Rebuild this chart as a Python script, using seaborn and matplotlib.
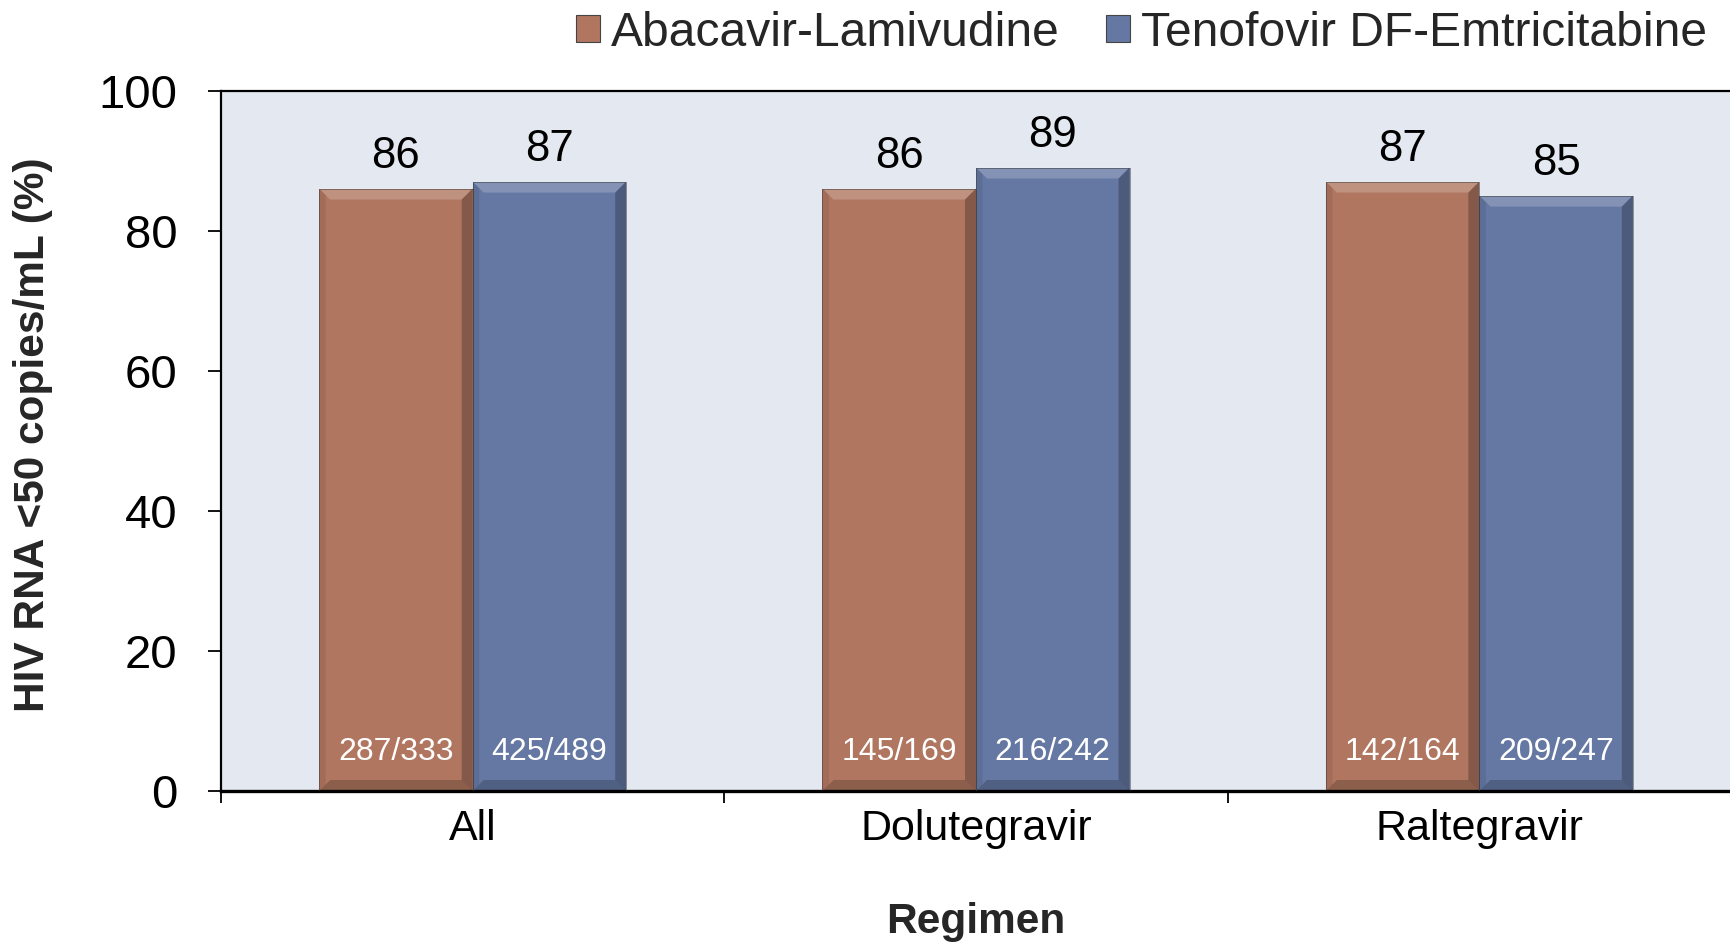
import numpy as np
import pandas as pd
import matplotlib
matplotlib.use("Agg")
import matplotlib.pyplot as plt
from matplotlib.patches import Polygon, Patch
import seaborn as sns

# data
regimens = ["All", "Dolutegravir", "Raltegravir"]
arms = ["Abacavir-Lamivudine", "Tenofovir DF-Emtricitabine"]
abc_pct = [86, 86, 87]
tdf_pct = [87, 89, 85]
abc_n = ["287/333", "145/169", "142/164"]
tdf_n = ["425/489", "216/242", "209/247"]

colors = {"Abacavir-Lamivudine": "#B07660", "Tenofovir DF-Emtricitabine": "#6578A3"}
bg = "#E4E9F1"

df = pd.DataFrame({
    "Regimen": regimens * 2,
    "Arm": [arms[0]] * 3 + [arms[1]] * 3,
    "pct": abc_pct + tdf_pct,
    "n": abc_n + tdf_n,
})

sns.set_style("white")
plt.rcParams["font.family"] = ["Liberation Sans", "DejaVu Sans"]

fig = plt.figure(figsize=(17.31, 9.44), dpi=100)
ax = fig.add_axes([221 / 1731, 1 - 791 / 944, 1 - 221 / 1731, (791 - 90.5) / 944])
ax.set_facecolor(bg)

sns.barplot(data=df, x="Regimen", y="pct", hue="Arm", palette=colors,
            width=0.61, saturation=1, ax=ax, edgecolor="none", linewidth=0)
ax.get_legend().remove()

ax.set_xlim(-0.5, 2.5)
ax.set_ylim(0, 100)
ax.set_yticks([0, 20, 40, 60, 80, 100])

# value labels on top, counts inside near the base
for cont, labels in zip(ax.containers, [abc_n, tdf_n]):
    ax.bar_label(cont, fmt="%d", padding=8, fontsize=31.5, color="black")
    for bar, lab in zip(cont, labels):
        ax.text(bar.get_x() + bar.get_width() / 2, 5.5, lab, ha="center", va="center",
                fontsize=23, color="white", zorder=5)

# bevel look on each bar, built from the bar geometry
inv = ax.transData.inverted()
b = 11
for cont in ax.containers:
    for bar in cont:
        (x0, y0), (x1, y1) = ax.transData.transform(
            [(bar.get_x(), bar.get_y()), (bar.get_x() + bar.get_width(), bar.get_y() + bar.get_height())])
        faces = [
            ([(x0, y1), (x1, y1), (x1 - b, y1 - b), (x0 + b, y1 - b)], "white", 0.2),
            ([(x1, y1), (x1, y0), (x1 - b, y0 + b), (x1 - b, y1 - b)], "black", 0.24),
            ([(x0, y0), (x1, y0), (x1 - b, y0 + b), (x0 + b, y0 + b)], "black", 0.2),
            ([(x0, y0), (x0, y1), (x0 + b * 0.6, y1 - b * 0.6), (x0 + b * 0.6, y0 + b * 0.6)], "black", 0.08),
        ]
        for pts, c, a in faces:
            ax.add_patch(Polygon(inv.transform(pts), closed=True, facecolor=c, alpha=a,
                                 edgecolor="none", zorder=3))
        # thin outline
        ax.add_patch(Polygon(inv.transform([(x0, y0), (x0, y1), (x1, y1), (x1, y0)]), closed=True,
                             facecolor="none", edgecolor="#3a3a3a", linewidth=0.6, alpha=0.6, zorder=4))

# spines and ticks
ax.spines["right"].set_visible(False)
ax.spines["left"].set_linewidth(1.6)
ax.spines["top"].set_linewidth(1.6)
ax.spines["bottom"].set_linewidth(2.4)
for s in ax.spines.values():
    s.set_color("black")

ax.tick_params(axis="y", which="major", direction="out", length=9.5, width=1.3,
               pad=22, labelsize=34, left=True, colors="black")
ax.tick_params(axis="x", which="major", length=0, pad=13, labelsize=31, colors="black")
ax.set_xticks([-0.5, 0.5, 1.5], minor=True)
ax.tick_params(axis="x", which="minor", direction="out", length=8.5, width=1.3,
               bottom=True, colors="black")

ax.set_xlabel("Regimen", fontsize=30.5, fontweight="bold", va="center")
ax.xaxis.set_label_coords(0.5, -(922 - 791) / 700.5)
ax.set_ylabel("HIV RNA <50 copies/mL (%)", fontsize=30.5, fontweight="bold", va="center")
ax.yaxis.set_label_coords(-(221 - 33) / 1510, 0.508)

handles = [Patch(facecolor=colors[a], edgecolor="#444444", linewidth=0.8) for a in arms]
ax.legend(handles, arms, loc="center right", bbox_to_anchor=(0.986, 0.965),
          bbox_transform=fig.transFigure, ncol=2, frameon=False, fontsize=34.6,
          handlelength=0.5, handleheight=0.5, handletextpad=0.23, columnspacing=0.95,
          borderaxespad=0, borderpad=0)

fig.savefig("out.png", dpi=100)
